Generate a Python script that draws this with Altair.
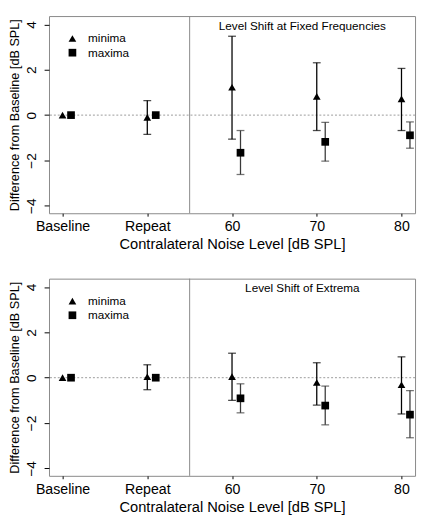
import json
import altair as alt
import pandas as pd

# ---------------- data ----------------
categories = ["Baseline", "Repeat", "60", "70", "80"]
series = ["minima", "maxima"]

# Panel 1: Level Shift at Fixed Frequencies
p1_min_mean = [0.0, -0.10, 1.23, 0.83, 0.72]
p1_min_lo = [None, -0.85, -1.06, -0.68, -0.68]
p1_min_hi = [None, 0.64, 3.48, 2.31, 2.06]
p1_max_mean = [0.0, 0.0, -1.66, -1.18, -0.89]
p1_max_lo = [None, None, -2.62, -2.03, -1.46]
p1_max_hi = [None, None, -0.68, -0.32, -0.30]

# Panel 2: Level Shift of Extrema
p2_min_mean = [0.0, 0.04, 0.05, -0.21, -0.31]
p2_min_lo = [None, -0.53, -1.00, -1.21, -1.60]
p2_min_hi = [None, 0.57, 1.08, 0.66, 0.92]
p2_max_mean = [0.0, 0.0, -0.91, -1.23, -1.63]
p2_max_lo = [None, None, -1.55, -2.08, -2.65]
p2_max_hi = [None, None, -0.27, -0.37, -0.57]

panel_titles = ["Level Shift at Fixed Frequencies", "Level Shift of Extrema"]
y_ticks = [-4, -2, 0, 2, 4]

# ---------------- layout constants ----------------
X_DOMAIN = [0.84, 5.16]
Y_DOMAIN = [-4.33, 4.37]
SEPARATOR = 2.5
MAX_OFFSET = 0.1
W, H = 375, 202
FONT = "Liberation Sans"
SHAPES = ["triangle-up", "square"]


def make_df(min_mean, min_lo, min_hi, max_mean, max_lo, max_hi):
    rows = []
    for i, cat in enumerate(categories):
        rows.append(dict(cat=cat, pos=i + 1, series="minima",
                         mean=min_mean[i], lo=min_lo[i], hi=min_hi[i]))
        rows.append(dict(cat=cat, pos=i + 1 + MAX_OFFSET, series="maxima",
                         mean=max_mean[i], lo=max_lo[i], hi=max_hi[i]))
    return pd.DataFrame(rows)


label_expr = json.dumps(categories) + "[datum.value - 1]"

x_enc = alt.X("pos:Q",
              scale=alt.Scale(domain=X_DOMAIN, nice=False, zero=False),
              axis=alt.Axis(values=[1, 2, 3, 4, 5], labelExpr=label_expr,
                            title="Contralateral Noise Level [dB SPL]",
                            tickSize=3, labelPadding=4, titlePadding=4,
                            labelFontSize=14.5, titleFontSize=15))
y_scale = alt.Scale(domain=Y_DOMAIN, nice=False, zero=False)
y_axis = alt.Axis(values=y_ticks, title="Difference from Baseline [dB SPL]",
                  labelAngle=-90, tickSize=5, labelPadding=6, titlePadding=3,
                  labelFontSize=14, titleFontSize=13)
shape_scale = alt.Scale(domain=series, range=SHAPES)


def panel(df, title):
    base = alt.Chart(df)
    bars = base.transform_filter("isValid(datum.lo)")
    col = alt.Color("series:N", scale=alt.Scale(domain=series, range=["black", "#3a3a3a"]),
                    legend=None)
    rule = bars.mark_rule(strokeWidth=1.3).encode(
        x=x_enc, y=alt.Y("lo:Q", scale=y_scale, axis=y_axis), y2="hi:Q", color=col)
    cap_lo = bars.mark_tick(orient="horizontal", size=8, thickness=1.3).encode(
        x="pos:Q", y="lo:Q", color=col)
    cap_hi = bars.mark_tick(orient="horizontal", size=8, thickness=1.3).encode(
        x="pos:Q", y="hi:Q", color=col)
    pts = base.mark_point(filled=True, opacity=1, color="black", size=62).encode(
        x="pos:Q", y="mean:Q",
        shape=alt.Shape("series:N", scale=shape_scale, legend=None))
    zero = alt.Chart(pd.DataFrame({"z": [0]})).mark_rule(
        color="#999", strokeDash=[2, 2], strokeWidth=1).encode(y="z:Q")
    sep = alt.Chart(pd.DataFrame({"s": [SEPARATOR]})).mark_rule(
        color="#888", strokeWidth=1).encode(x="s:Q")
    txt = alt.Chart(pd.DataFrame({"t": [title], "x": [(SEPARATOR + X_DOMAIN[1]) / 2]})).mark_text(
        fontSize=12, font=FONT, baseline="middle", align="center", color="black").encode(
        x="x:Q", y=alt.value(10), text="t:N")
    # manual legend (guide), placed in pixel space
    leg = alt.Chart(pd.DataFrame({"series": series, "k": [0, 1]})).transform_calculate(
        py="23 + 14.5 * datum.k")
    leg_pts = leg.mark_point(filled=True, opacity=1, color="black", size=62).encode(
        x=alt.value(24), y=alt.Y("py:Q", scale=None),
        shape=alt.Shape("series:N", scale=shape_scale, legend=None))
    leg_txt = leg.mark_text(fontSize=12, font=FONT, align="left", baseline="middle",
                            color="black").encode(
        x=alt.value(40), y=alt.Y("py:Q", scale=None), text="series:N")
    return alt.layer(zero, sep, rule, cap_lo, cap_hi, pts, txt, leg_pts, leg_txt).properties(
        width=W, height=H)


top = panel(make_df(p1_min_mean, p1_min_lo, p1_min_hi, p1_max_mean, p1_max_lo, p1_max_hi),
            panel_titles[0])
bottom = panel(make_df(p2_min_mean, p2_min_lo, p2_min_hi, p2_max_mean, p2_max_lo, p2_max_hi),
               panel_titles[1])

chart = alt.vconcat(top, bottom, spacing=26).resolve_scale(color="independent").properties(
    padding={"left": 0, "top": 1, "right": 1, "bottom": 0}
).configure_view(stroke="#888", strokeWidth=1).configure_axis(
    domain=False, grid=False, tickColor="black", labelColor="black", titleColor="black",
    labelFont=FONT, titleFont=FONT, titleFontWeight="normal"
)

chart.save("out.html", embed_options={"renderer": "svg", "actions": False})
